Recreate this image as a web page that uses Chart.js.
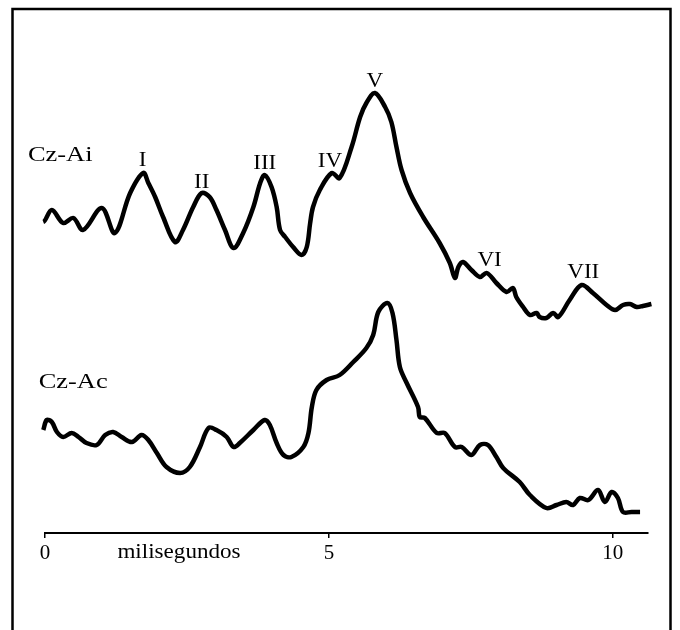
<!DOCTYPE html>
<html>
<head>
<meta charset="utf-8">
<script src="https://cdn.jsdelivr.net/npm/chart.js@4"></script>
<style>
  html, body { margin: 0; padding: 0; background: #fff; }
  #wrap { width: 680px; height: 630px; }
</style>
</head>
<body>
<div id="wrap"><canvas id="c" width="680" height="630"></canvas></div>
<script>
// Time axis (milisegundos)
const xTicks = [0, 5, 10];
const axisTitle = "milisegundos";

// Cz-Ai trace: time (ms) and amplitude (arbitrary units)
const aiTime = [-0.12,-0.03,0.12,0.32,0.50,0.67,1.00,1.23,1.50,1.73,1.82,1.94,2.08,2.29,2.43,2.61,2.76,2.90,3.02,3.17,3.32,3.49,3.67,3.79,3.87,3.99,4.08,4.14,4.23,4.37,4.52,4.61,4.67,4.72,4.84,5.05,5.19,5.40,5.55,5.66,5.81,5.99,6.10,6.19,6.28,6.43,6.66,6.95,7.13,7.22,7.28,7.36,7.51,7.66,7.78,7.95,8.13,8.24,8.30,8.42,8.54,8.66,8.71,8.83,8.95,9.04,9.24,9.45,9.65,9.89,10.04,10.18,10.30,10.42,10.53,10.68];
const aiAmp  = [3.18,3.11,3.23,3.10,3.15,3.03,3.25,3.00,3.40,3.60,3.50,3.36,3.16,2.91,3.03,3.26,3.40,3.36,3.23,3.03,2.85,3.00,3.26,3.50,3.58,3.46,3.26,3.03,2.96,2.86,2.78,2.86,3.10,3.26,3.43,3.60,3.55,3.86,4.16,4.30,4.40,4.26,4.11,3.86,3.63,3.40,3.16,2.90,2.70,2.55,2.66,2.71,2.63,2.56,2.60,2.50,2.41,2.45,2.36,2.26,2.18,2.20,2.16,2.15,2.20,2.16,2.33,2.48,2.40,2.28,2.23,2.28,2.29,2.26,2.27,2.29];

// Cz-Ac trace
const acTime = [-0.03,0.03,0.12,0.21,0.32,0.47,0.59,0.73,0.91,1.06,1.20,1.35,1.53,1.70,1.82,1.97,2.14,2.38,2.55,2.73,2.88,3.02,3.20,3.32,3.43,3.67,3.87,3.96,4.08,4.20,4.34,4.55,4.64,4.70,4.78,4.96,5.19,5.43,5.66,5.78,5.87,6.03,6.12,6.19,6.25,6.37,6.57,6.60,6.69,6.90,7.04,7.22,7.34,7.51,7.66,7.80,7.95,8.07,8.36,8.54,8.83,9.01,9.18,9.30,9.42,9.57,9.74,9.86,9.98,10.09,10.18,10.33,10.48];
const acAmp  = [1.03,1.13,1.11,1.01,0.96,1.00,0.96,0.90,0.88,0.98,1.01,0.96,0.91,0.98,0.93,0.80,0.66,0.60,0.66,0.86,1.05,1.03,0.96,0.86,0.90,1.03,1.13,1.08,0.90,0.78,0.76,0.86,1.00,1.26,1.43,1.53,1.58,1.71,1.85,1.98,2.21,2.30,2.20,1.93,1.66,1.50,1.26,1.16,1.15,1.00,1.00,0.86,0.86,0.78,0.88,0.88,0.76,0.65,0.51,0.38,0.25,0.28,0.31,0.28,0.35,0.33,0.43,0.31,0.41,0.35,0.21,0.21,0.21];

// Wave labels (Roman numerals) and their positions in data units
const waveNames = ["I","II","III","IV","V","VI","VII"];
const waveTime  = [1.72, 2.76, 3.87, 5.02, 5.81, 7.83, 9.48];
const waveAmp   = [3.73, 3.51, 3.70, 3.72, 4.52, 2.73, 2.61];

// Trace names
const traceNames = ["Cz-Ai", "Cz-Ac"];
const traceNameTime = [-0.30, -0.11];
const traceNameAmp  = [3.78, 1.51];

const toPts = (xs, ys) => xs.map((x, i) => ({ x: x, y: ys[i] }));
const FONT = '"Liberation Serif", "Times New Roman", serif';

function stretchText(ctx, text, x, y, sx, align) {
  ctx.save();
  ctx.translate(x, y);
  ctx.scale(sx, 1);
  ctx.textAlign = align;
  ctx.fillText(text, 0, 0);
  ctx.restore();
}

const annotate = {
  id: 'annotate',
  afterDraw(chart) {
    const ctx = chart.ctx, xs = chart.scales.x, ys = chart.scales.y;
    ctx.save();
    ctx.fillStyle = '#000';
    ctx.textBaseline = 'middle';
    ctx.font = '22px ' + FONT;
    waveNames.forEach((n, i) => {
      stretchText(ctx, n, xs.getPixelForValue(waveTime[i]), ys.getPixelForValue(waveAmp[i]), 1.05, 'center');
    });
    traceNames.forEach((n, i) => {
      stretchText(ctx, n, xs.getPixelForValue(traceNameTime[i]), ys.getPixelForValue(traceNameAmp[i]), 1.2, 'left');
    });
    stretchText(ctx, axisTitle, xs.getPixelForValue(2.36), chart.chartArea.bottom + 19, 1.05, 'center');
    // outer frame
    ctx.strokeStyle = '#000';
    ctx.lineWidth = 2.5;
    ctx.strokeRect(12.5, 9, 658, 640);
    ctx.restore();
  }
};

new Chart(document.getElementById('c'), {
  type: 'line',
  data: {
    datasets: [
      { label: traceNames[0], data: toPts(aiTime, aiAmp), borderColor: '#000', borderWidth: 4.5, pointRadius: 0, tension: 0.35, clip: false, fill: false },
      { label: traceNames[1], data: toPts(acTime, acAmp), borderColor: '#000', borderWidth: 4.5, pointRadius: 0, tension: 0.35, clip: false, fill: false }
    ]
  },
  options: {
    responsive: false,
    animation: false,
    layout: { padding: { left: 45, right: 32, top: 33, bottom: 57 } },
    plugins: { legend: { display: false }, tooltip: { enabled: false } },
    scales: {
      x: {
        type: 'linear', min: 0, max: 10.62,
        afterBuildTicks: (s) => { s.ticks = xTicks.map(v => ({ value: v })); },
        afterFit: (s) => { s.height = 40; },
        border: { display: true, color: '#000', width: 2 },
        grid: { display: true, drawOnChartArea: false, drawTicks: true, tickLength: 5, color: '#000', lineWidth: 1.5 },
        ticks: { color: '#000', padding: 3, font: { family: FONT, size: 21 }, maxRotation: 0 }
      },
      y: { type: 'linear', min: 0, max: 5, display: false }
    }
  },
  plugins: [annotate]
});
</script>
</body>
</html>
